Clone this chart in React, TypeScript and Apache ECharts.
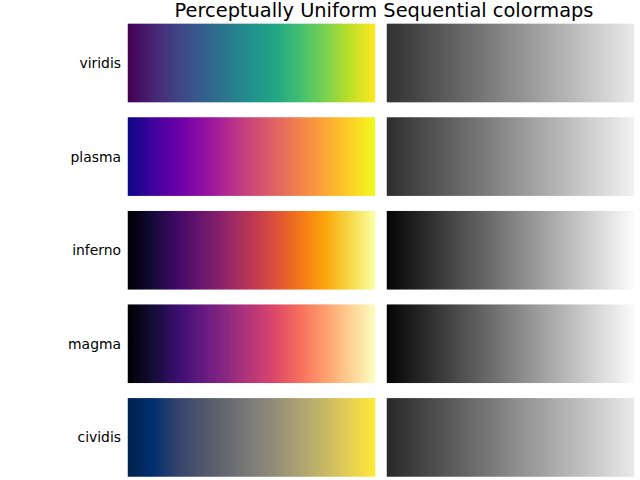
import React, { useEffect, useRef } from "react";
import * as echarts from "echarts";

const titleText = "Perceptually Uniform Sequential colormaps";
const colormapNames = ["viridis", "plasma", "inferno", "magma", "cividis"];

// Colour stops at 0, 0.1, ..., 1.0
const viridisStops = ["#440154", "#482475", "#414487", "#355f8d", "#2a788e", "#21918c", "#22a884", "#44bf70", "#7ad151", "#bddf26", "#fde725"];
const plasmaStops = ["#0d0887", "#41049d", "#6a00a8", "#8f0da4", "#b12a90", "#cc4778", "#e16462", "#f2844b", "#fca636", "#fcce25", "#f0f921"];
const infernoStops = ["#000004", "#160b39", "#420a68", "#6a176e", "#932667", "#bc3754", "#dd513a", "#f37819", "#fca50a", "#f6d746", "#fcffa4"];
const magmaStops = ["#000004", "#140e36", "#3b0f70", "#641a80", "#8c2981", "#b73779", "#de4968", "#f7705c", "#fe9f6d", "#fecf92", "#fcfdbf"];
const cividisStops = ["#00224e", "#00306f", "#35456c", "#4f576c", "#666970", "#7d7c78", "#948e77", "#aea371", "#c8b866", "#e5cf52", "#fee838"];

// Lightness (grayscale) stops at 0, 0.25, 0.5, 0.75, 1.0
const viridisGray = ["#323232", "#5e5e5e", "#8b8b8b", "#b9b9b9", "#e9e9e9"];
const plasmaGray = ["#2f2f2f", "#5f5f5f", "#8f8f8f", "#c0c0c0", "#f1f1f1"];
const infernoGray = ["#050505", "#424242", "#808080", "#bebebe", "#fbfbfb"];
const magmaGray = ["#050505", "#424242", "#808080", "#bebebe", "#fafafa"];
const cividisGray = ["#2a2a2a", "#585858", "#898989", "#b8b8b8", "#e8e8e8"];

const colorStopsList = [viridisStops, plasmaStops, infernoStops, magmaStops, cividisStops];
const grayStopsList = [viridisGray, plasmaGray, infernoGray, magmaGray, cividisGray];

const cellCount = 247;
const gradientCategories = Array.from({ length: cellCount }, (_, i) => String(i));
const gradientValues = Array.from({ length: cellCount }, (_, i) => i / (cellCount - 1));

export default function App() {
  const ref = useRef<HTMLDivElement>(null);
  useEffect(() => {
    if (!ref.current) return;
    const chart = echarts.init(ref.current, null, { renderer: "svg" });
    const font = "DejaVu Sans";
    const grids: any[] = [];
    const xAxes: any[] = [];
    const yAxes: any[] = [];
    const series: any[] = [];
    const visualMaps: any[] = [];
    const rowTop = 24;
    const rowStep = 93.6;
    const rowH = 78;
    const colLefts = [128, 387];
    const colW = 247;

    colormapNames.forEach((name, r) => {
      [0, 1].forEach((c) => {
        const k = grids.length;
        grids.push({ left: colLefts[c], top: rowTop + r * rowStep, width: colW, height: rowH, containLabel: false });
        xAxes.push({
          type: "category",
          gridIndex: k,
          data: gradientCategories,
          show: false,
        });
        yAxes.push({
          type: "category",
          gridIndex: k,
          data: [name],
          axisLine: { show: false },
          axisTick: { show: false },
          splitLine: { show: false },
          axisLabel: {
            show: c === 0,
            margin: 7,
            fontFamily: font,
            fontSize: 13.9,
            color: "#000",
          },
        });
        series.push({
          type: "heatmap",
          xAxisIndex: k,
          yAxisIndex: k,
          data: gradientValues.map((v, i) => [i, 0, v]),
          itemStyle: { borderWidth: 0 },
          emphasis: { disabled: true },
          silent: true,
          progressive: 0,
        });
        visualMaps.push({
          type: "continuous",
          show: false,
          seriesIndex: k,
          dimension: 2,
          min: 0,
          max: 1,
          inRange: { color: c === 0 ? colorStopsList[r] : grayStopsList[r] },
        });
      });
    });

    chart.setOption({
      animation: false,
      backgroundColor: "#fff",
      grid: grids,
      xAxis: xAxes,
      yAxis: yAxes,
      visualMap: visualMaps,
      series,
      graphic: [
        {
          type: "text",
          x: 384,
          y: 10.5,
          style: {
            text: titleText,
            fontFamily: font,
            fontSize: 19.4,
            fill: "#000",
            textAlign: "center",
            textVerticalAlign: "middle",
          },
        },
      ],
    });
    return () => chart.dispose();
  }, []);
  return (
    <div
      ref={ref}
      style={{ position: "fixed", left: 0, top: 0, width: 640, height: 480 }}
    />
  );
}
